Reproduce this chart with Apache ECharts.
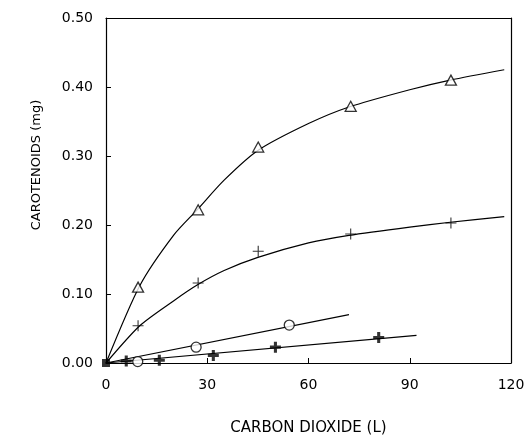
<!DOCTYPE html>
<html><head><meta charset="utf-8">
<script src="https://cdn.jsdelivr.net/npm/echarts@6/dist/echarts.min.js"></script>
<style>html,body{margin:0;padding:0;background:#fff}#c{width:529px;height:435px}</style>
</head><body><div id="c"></div>
<script>
// Measured points (CO2 litres, carotenoids mg)
var triPts = [[9.5,0.110],[27.3,0.222],[45.1,0.313],[72.5,0.372],[102.2,0.410]];
var plusPts = [[9.5,0.054],[27.3,0.116],[45.1,0.162],[72.5,0.187],[102.2,0.203]];
var circPts = [[9.4,0.002],[26.7,0.023],[54.3,0.055]];
var boldPts = [[6,0.003],[15.8,0.004],[31.8,0.011],[50.2,0.023],[80.8,0.037]];
var originPt = [[0,0]];
// Fitted curves
var triCurve = [[0,0],[10,0.112],[20,0.185],[27,0.222],[35,0.265],[45,0.308],[60,0.347],[72,0.371],[90,0.396],[102,0.410],[118,0.425]];
var plusCurve = [[0,0],[10,0.054],[20,0.090],[27,0.113],[35,0.134],[45,0.153],[60,0.174],[72,0.185],[90,0.197],[102,0.204],[118,0.212]];
var circCurve = [[0,0],[72,0.070]];
var boldCurve = [[0,0],[92,0.040]];
var xTicks = [0,30,60,90,120];
var yTicks = [0,0.1,0.2,0.3,0.4,0.5];

var F = 'DejaVu Sans';
var thinPlus = 'path://M4.5,0h1v4.5h4.5v1h-4.5v4.5h-1v-4.5h-4.5v-1h4.5z';
var boldPlus = 'path://M3.6,0h2.8v3.6h3.6v2.8h-3.6v3.6h-2.8v-3.6h-3.6v-2.8h3.6z';
var ls = {color:'#000', width:1.2};
function curve(d){return {type:'line', data:d, smooth:0.25, showSymbol:false, lineStyle:ls, silent:true, z:2};}
var frameAxis = {axisLine:{show:true, onZero:false, lineStyle:{color:'#000', width:1.2}}, axisTick:{show:false}, axisLabel:{show:false}, splitLine:{show:false}};
var chart = echarts.init(document.getElementById('c'), null, {renderer:'canvas'});
chart.setOption({
  animation:false,
  backgroundColor:'#fff',
  grid:{left:106, right:18, top:18, bottom:72, outerBoundsMode:'none', containLabel:false},
  xAxis:[{type:'value', min:xTicks[0], max:xTicks[xTicks.length-1], interval:30,
    axisLine:{onZero:false, lineStyle:{color:'#000', width:1.2}},
    axisTick:{inside:true, length:5, lineStyle:{color:'#000'}},
    axisLabel:{color:'#000', fontFamily:F, fontSize:14, margin:15},
    splitLine:{show:false},
    name:'CARBON DIOXIDE (L)', nameLocation:'middle', nameGap:58,
    nameTextStyle:{color:'#000', fontFamily:F, fontSize:15}},
    Object.assign({type:'value', position:'top', min:0, max:120}, frameAxis)],
  yAxis:[{type:'value', min:yTicks[0], max:yTicks[yTicks.length-1], interval:0.1,
    axisLine:{onZero:false, lineStyle:{color:'#000', width:1.2}},
    axisTick:{inside:true, length:5, lineStyle:{color:'#000'}},
    axisLabel:{color:'#000', fontFamily:F, fontSize:14, margin:13, formatter:function(v){return v.toFixed(2);}},
    splitLine:{show:false}},
    Object.assign({type:'value', position:'right', min:0, max:0.5}, frameAxis)],
  graphic:[{type:'text', x:37, y:165, rotation:Math.PI/2,
    style:{text:'CAROTENOIDS (mg)', fill:'#000', font:'13px "DejaVu Sans"', align:'center', verticalAlign:'middle'}}],
  series:[
    curve(triCurve), curve(plusCurve), curve(circCurve), curve(boldCurve),
    {type:'scatter', data:triPts, symbol:'triangle', symbolSize:[11,10], itemStyle:{color:'#fff', borderColor:'#000', borderWidth:1.3}, z:5},
    {type:'scatter', data:plusPts, symbol:thinPlus, symbolSize:11, itemStyle:{color:'#000'}, z:5},
    {type:'scatter', data:circPts, symbol:'circle', symbolSize:10, itemStyle:{color:'#fff', borderColor:'#000', borderWidth:1.3}, z:5},
    {type:'scatter', data:boldPts, symbol:boldPlus, symbolSize:11, itemStyle:{color:'#000'}, z:5},
    {type:'scatter', data:originPt, symbol:'rect', symbolSize:8, itemStyle:{color:'#000'}, z:6}
  ]
});
</script></body></html>
